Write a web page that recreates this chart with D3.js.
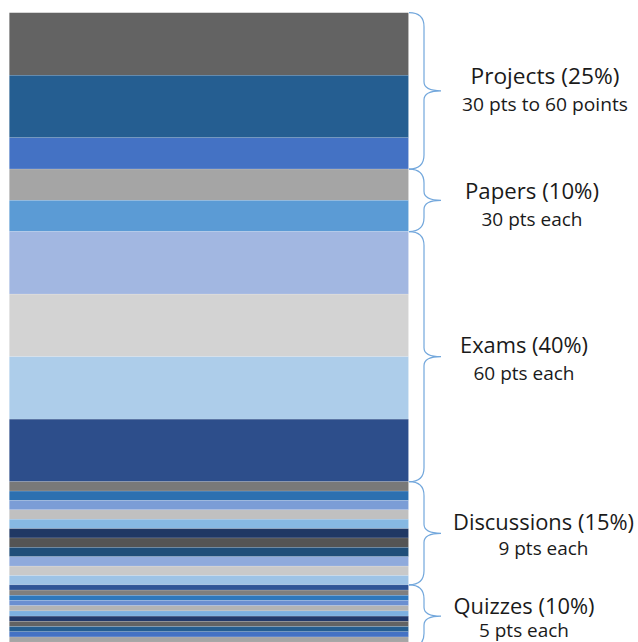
<!DOCTYPE html>
<html>
<head>
<meta charset="utf-8">
<script src="https://cdn.jsdelivr.net/npm/d3@7"></script>
<style>
html,body{margin:0;padding:0;background:#fff;overflow:hidden;}
svg{display:block;}
</style>
</head>
<body>
<svg id="chart" width="638" height="642"></svg>
<script>
// ---- data ----
const categories = ["Projects", "Papers", "Exams", "Discussions", "Quizzes"];
const percents = [25, 10, 40, 15, 10];
const subtitles = ["30 pts to 60 points", "30 pts each", "60 pts each", "9 pts each", "5 pts each"];
const projectPts = [60, 60, 30];
const paperPts = [30, 30];
const examPts = [60, 60, 60, 60];
const discussionPts = [9, 9, 9, 9, 9, 9, 9, 9, 9, 9, 9];
const quizPts = [5, 5, 5, 5, 5, 5, 5, 5, 5, 5, 5, 5];

// ---- styles ----
const segColors = [
  "#636363", "#255e91", "#4472c4",
  "#a5a5a5", "#5b9bd5",
  "#a2b7e1", "#d3d3d3", "#adcdea", "#2d4e8b",
  "#797979", "#2d70b0", "#7b9dd6", "#c0c0c0", "#86b8e2", "#203864", "#545454", "#1f4e79", "#8faadc", "#c9c9c9", "#9dc3e6",
  "#2f5597", "#7f7f7f", "#2e78bd", "#6b8fd1", "#b4b4b4", "#7db0e0", "#22396b", "#636363", "#255e91", "#4472c4", "#a5a5a5", "#5b9bd5"
];
const labelLayout = [
  {cx: 545, tw: 149, sw: 166},
  {cx: 532, tw: 134, sw: 101},
  {cx: 524, tw: 128, sw: 101},
  {cx: 543.5, tw: 181, sw: 90},
  {cx: 524, tw: 141, sw: 90}
];

const groups = [projectPts, paperPts, examPts, discussionPts, quizPts];

// flatten segments
const segments = [];
let acc = 0;
const groupBounds = [];
groups.forEach((g, gi) => {
  const start = acc;
  g.forEach(v => {
    segments.push({group: gi, start: acc, end: acc + v});
    acc += v;
  });
  groupBounds.push({start, end: acc});
});
const total = acc;

const svg = d3.select("#chart");
const barX0 = 9.3, barX1 = 408.5;
const y = d3.scaleLinear().domain([0, total]).range([12.7, 12.7 + total * 1.0422]);
const x = d3.scaleLinear().domain([0, 1]).range([barX0, barX1]);

svg.append("g").selectAll("rect").data(segments).join("rect")
  .attr("x", x(0))
  .attr("width", x(1) - x(0))
  .attr("y", d => y(d.start))
  .attr("height", d => y(d.end) - y(d.start))
  .attr("fill", (d, i) => segColors[i % segColors.length])
  .attr("stroke", "#ffffff")
  .attr("stroke-opacity", 0.25)
  .attr("stroke-width", 0.5);

// braces
const bx0 = barX1 + 0.5, bx1 = 424, bx2 = 441;
function bracePath(y0, y1) {
  const ym = (y0 + y1) / 2;
  const h = y1 - y0;
  const r1 = Math.min(14, h / 4);
  const r2 = Math.min(9, h / 6);
  return `M${bx0},${y0} Q${bx1},${y0} ${bx1},${y0 + r1} L${bx1},${ym - r2} Q${bx1},${ym} ${bx2},${ym} ` +
         `Q${bx1},${ym} ${bx1},${ym + r2} L${bx1},${y1 - r1} Q${bx1},${y1} ${bx0},${y1}`;
}
svg.append("g").selectAll("path").data(groupBounds).join("path")
  .attr("d", d => bracePath(y(d.start), y(d.end)))
  .attr("fill", "none")
  .attr("stroke", "#72a7dc")
  .attr("stroke-width", 1.2);

// labels
const titleBase = [84, 199, 353, 529.5, 613.5];
const subBase = [111, 225.5, 379.5, 555, 637];
const lg = svg.append("g").attr("font-family", "'Open Sans', sans-serif").attr("fill", "#1a1a1a");
categories.forEach((c, i) => {
  const L = labelLayout[i];
  lg.append("text")
    .attr("x", L.cx - L.tw / 2)
    .attr("y", titleBase[i])
    .attr("font-size", 22)
    .attr("textLength", L.tw)
    .attr("lengthAdjust", "spacingAndGlyphs")
    .text(`${c} (${percents[i]}%)`);
  lg.append("text")
    .attr("x", L.cx - L.sw / 2)
    .attr("y", subBase[i])
    .attr("font-size", 19)
    .attr("textLength", L.sw)
    .attr("lengthAdjust", "spacingAndGlyphs")
    .text(subtitles[i]);
});
</script>
</body>
</html>
